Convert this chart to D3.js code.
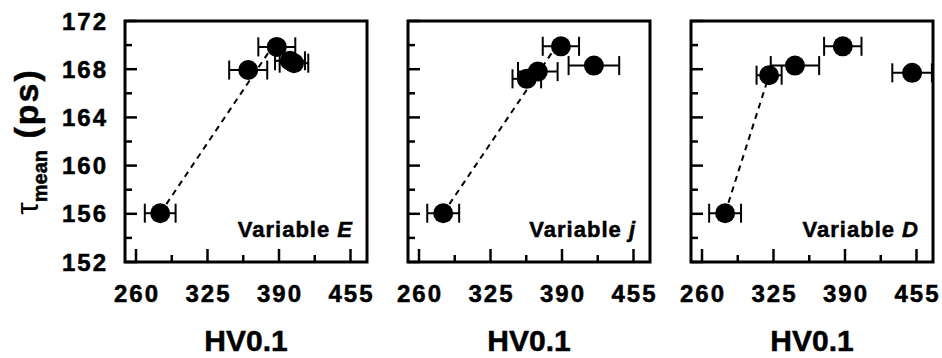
<!DOCTYPE html>
<html>
<head>
<meta charset="utf-8">
<script src="https://cdn.jsdelivr.net/npm/d3@7"></script>
<style>
  body { margin: 0; background: #fff; }
  svg { display: block; }
  text { font-family: 'Liberation Sans', Arial, sans-serif; font-weight: bold; fill: #000; stroke: #000; stroke-width: 0.5px; }
</style>
</head>
<body>
<div id="graf"></div>
<script>
// datos
paneles = ['E', 'j', 'D']

hv   = [[282, 362, 388, 400, 403.6],
        [282, 358, 368, 389, 419],
        [281, 321, 344.5, 388, 451]]
tau  = [[156.05, 167.93, 169.85, 168.7, 168.5],
        [156.05, 167.2, 167.8, 169.9, 168.3],
        [156.05, 167.5, 168.3, 169.9, 167.7]]
err  = [[14, 17.3, 16.8, 13.6, 13],
        [14.5, 13, 18, 16.5, 23],
        [14.5, 11.4, 22, 17, 18]]

// linea punteada: [hv0, tau0, hv1, tau1]
tendencia = [[282, 156.05, 385, 170],
             [282, 156.05, 385.5, 170],
             [281, 156.05, 321, 167.5]]

xMayores = [260, 325, 390, 455]
xMenores = [292.5, 357.5, 422.5]
yMayores = [152, 156, 160, 164, 168, 172]
yMenores = [154, 158, 162, 166, 170]

// I. Configuración
ancho_total = 942
alto_total = 358
margins = { top: 21, left: 125 }
ancho = 242
alto = 241
paso = 283

svg = d3.select('#graf').append('svg')
  .attr('width', ancho_total)
  .attr('height', alto_total)

x = d3.scaleLinear().domain([250, 470]).range([0, ancho])
y = d3.scaleLinear().domain([152, 172]).range([alto, 0])

paneles.forEach((p, i) => {
  g = svg.append('g')
    .attr('transform', `translate(${margins.left + i * paso}, ${margins.top})`)

  // ticks hacia adentro
  g.selectAll('.ym').data(yMayores).enter().append('line')
    .attr('x1', 0).attr('x2', 12)
    .attr('y1', d => y(d)).attr('y2', d => y(d))
    .attr('stroke', '#000').attr('stroke-width', 2.5)
  g.selectAll('.yn').data(yMenores).enter().append('line')
    .attr('x1', 0).attr('x2', 7)
    .attr('y1', d => y(d)).attr('y2', d => y(d))
    .attr('stroke', '#000').attr('stroke-width', 2.5)
  g.selectAll('.xm').data(xMayores).enter().append('line')
    .attr('x1', d => x(d)).attr('x2', d => x(d))
    .attr('y1', alto).attr('y2', alto - 13)
    .attr('stroke', '#000').attr('stroke-width', 2.5)
  g.selectAll('.xn').data(xMenores).enter().append('line')
    .attr('x1', d => x(d)).attr('x2', d => x(d))
    .attr('y1', alto).attr('y2', alto - 7)
    .attr('stroke', '#000').attr('stroke-width', 2.5)

  // etiquetas de los ejes
  g.selectAll('.xl').data(xMayores).enter().append('text')
    .attr('x', d => x(d) + 1)
    .attr('y', alto + 40)
    .attr('text-anchor', 'middle')
    .attr('font-size', '24px')
    .attr('letter-spacing', '2px')
    .text(d => d)

  if (i == 0) {
    g.selectAll('.yl').data(yMayores).enter().append('text')
      .attr('x', -17)
      .attr('y', d => y(d) + 8.5)
      .attr('text-anchor', 'end')
      .attr('font-size', '24px')
      .attr('letter-spacing', '2px')
      .text(d => d)
  }

  g.append('text')
    .attr('x', ancho / 2)
    .attr('y', alto + 89)
    .attr('text-anchor', 'middle')
    .attr('font-size', '30px')
    .text('HV0.1')

  // linea punteada
  t = tendencia[i]
  g.append('line')
    .attr('x1', x(t[0])).attr('y1', y(t[1]))
    .attr('x2', x(t[2])).attr('y2', y(t[3]))
    .attr('stroke', '#000').attr('stroke-width', 2)
    .attr('stroke-dasharray', '6,5')

  datos = hv[i].map((h, k) => ({ hv: h, tau: tau[i][k], e: err[i][k] }))

  eb = g.selectAll('.eb').data(datos).enter().append('g')
  eb.append('line')
    .attr('x1', d => x(d.hv - d.e)).attr('x2', d => x(d.hv + d.e))
    .attr('y1', d => y(d.tau)).attr('y2', d => y(d.tau))
    .attr('stroke', '#000').attr('stroke-width', 2)
  eb.append('line')
    .attr('x1', d => x(d.hv - d.e)).attr('x2', d => x(d.hv - d.e))
    .attr('y1', d => y(d.tau) - 9.5).attr('y2', d => y(d.tau) + 9.5)
    .attr('stroke', '#000').attr('stroke-width', 2)
  eb.append('line')
    .attr('x1', d => x(d.hv + d.e)).attr('x2', d => x(d.hv + d.e))
    .attr('y1', d => y(d.tau) - 9.5).attr('y2', d => y(d.tau) + 9.5)
    .attr('stroke', '#000').attr('stroke-width', 2)
  eb.append('circle')
    .attr('cx', d => x(d.hv)).attr('cy', d => y(d.tau))
    .attr('r', 10)
    .attr('fill', '#000')

  // marco
  g.append('rect')
    .attr('x', 0).attr('y', 0)
    .attr('width', ancho).attr('height', alto)
    .attr('fill', 'none')
    .attr('stroke', '#000').attr('stroke-width', 3)

  lab = g.append('text')
    .attr('x', ancho - 14)
    .attr('y', alto - 25)
    .attr('text-anchor', 'end')
    .attr('font-size', '22px')
    .attr('letter-spacing', '1px')
  lab.append('tspan').text('Variable ')
  lab.append('tspan').attr('font-style', 'italic').text(p)
})

// titulo eje y
yt = svg.append('text')
  .attr('transform', `translate(38, ${margins.top + alto / 2}) rotate(-90)`)
  .attr('text-anchor', 'middle')
yt.append('tspan').attr('font-size', '32px').attr('font-weight', 'normal').attr('stroke-width', 0).text('τ')
yt.append('tspan').attr('font-size', '20px').attr('dy', 9).text('mean')
yt.append('tspan').attr('font-size', '34px').attr('dy', -9).attr('letter-spacing', '2px').text(' (ps)')
</script>
</body>
</html>
